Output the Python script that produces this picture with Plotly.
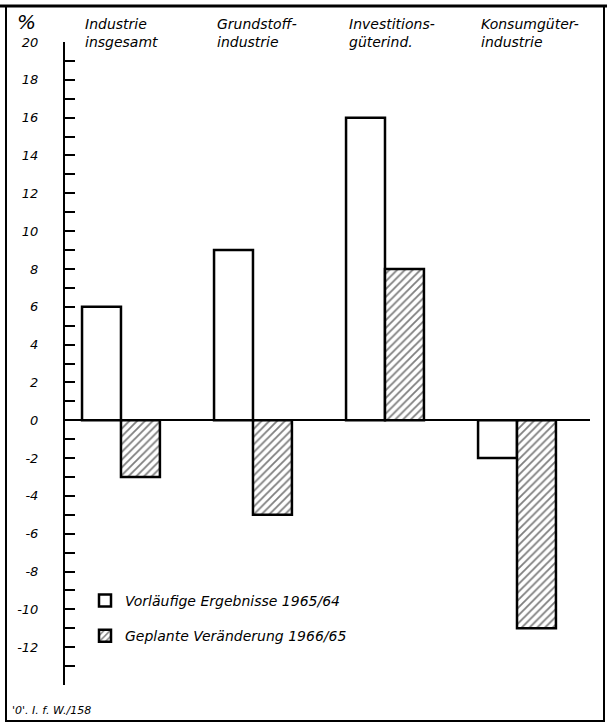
import plotly.graph_objects as go

categories = ["Industrie insgesamt", "Grundstoffindustrie", "Investitionsgüterind.", "Konsumgüterindustrie"]
category_labels = ["Industrie<br>insgesamt", "Grundstoff-<br>industrie", "Investitions-<br>güterind.", "Konsumgüter-<br>industrie"]
series_names = ["Vorläufige Ergebnisse 1965/64", "Geplante Veränderung 1966/65"]
vorlaeufig = [6, 9, 16, -2]
geplant = [-3, -5, 8, -11]
tick_values = list(range(-12, 21, 2))
tick_labels = [str(v) if v >= 0 else "-" + str(-v) for v in tick_values]

W, H = 607, 724
ML, MR, MT, MB = 65, 17, 42, 39
PW, PH = W - ML - MR, H - MT - MB

FONT = "DejaVu Sans"

def px_x(x):
    return (x - ML) / PW

def px_y(y):
    return (H - MB - y) / PH

fig = go.Figure()
fig.add_trace(go.Bar(
    x=categories, y=vorlaeufig, name=series_names[0], legendgroup="a",
    marker=dict(color="white", line=dict(color="black", width=2.5)),
))
fig.add_trace(go.Bar(
    x=categories, y=geplant, name=series_names[1], legendgroup="b",
    marker=dict(color="white", line=dict(color="black", width=2.5),
                pattern=dict(shape="/", fgcolor="black", bgcolor="white", size=5.5, solidity=0.33)),
))

for cat, lab in zip(categories, category_labels):
    fig.add_annotation(x=cat, xref="x", y=px_y(33), yref="paper", text=lab,
                       showarrow=False, xanchor="left", yanchor="middle", xshift=-38,
                       align="left", font=dict(family=FONT, size=14, color="black", style="italic"))

fig.add_annotation(x=px_x(26), xref="paper", y=px_y(22), yref="paper", text="%",
                   showarrow=False, xanchor="center", yanchor="middle",
                   font=dict(family=FONT, size=20, color="black", style="italic"))
fig.add_annotation(x=px_x(10), xref="paper", y=px_y(710), yref="paper", text="'0'. I. f. W./158",
                   showarrow=False, xanchor="left", yanchor="middle",
                   font=dict(family=FONT, size=11, color="black", style="italic"))

# frame
fig.add_shape(type="rect", xref="paper", yref="paper", x0=px_x(6), x1=px_x(604), y0=px_y(721), y1=px_y(6),
              line=dict(color="black", width=2), layer="above")
fig.add_shape(type="line", xref="paper", yref="paper", x0=px_x(0), x1=px_x(607), y0=px_y(6), y1=px_y(6),
              line=dict(color="black", width=3))

fig.update_layout(
    width=W, height=H, margin=dict(l=ML, r=MR, t=MT, b=MB),
    paper_bgcolor="white", plot_bgcolor="white",
    barmode="group", bargap=0.41, bargroupgap=0,
    showlegend=True,
    legend=dict(x=px_x(85), y=px_y(585), xanchor="left", yanchor="top", bgcolor="rgba(0,0,0,0)",
                font=dict(family=FONT, size=14, color="black", style="italic"), tracegroupgap=14),
    xaxis=dict(range=[-0.424, 3.553], showticklabels=False, ticks="", showline=False,
               showgrid=False, zeroline=False),
    yaxis=dict(range=[-14, 20], tickvals=tick_values, ticktext=tick_labels, ticks="inside",
               ticklen=10, tickwidth=1.5, tickcolor="black", showline=True, linecolor="black",
               linewidth=2, showgrid=False, zeroline=True, zerolinecolor="black", zerolinewidth=1.5,
               ticklabelstandoff=22,
               tickfont=dict(family=FONT, size=13, color="black", style="italic"),
               minor=dict(tickvals=list(range(-14, 21)), ticks="inside", ticklen=10, tickwidth=1.5,
                          tickcolor="black", showgrid=False)),
)

fig.write_html("out.html", config={"displayModeBar": False},
               post_script="document.body.style.margin='0';")
